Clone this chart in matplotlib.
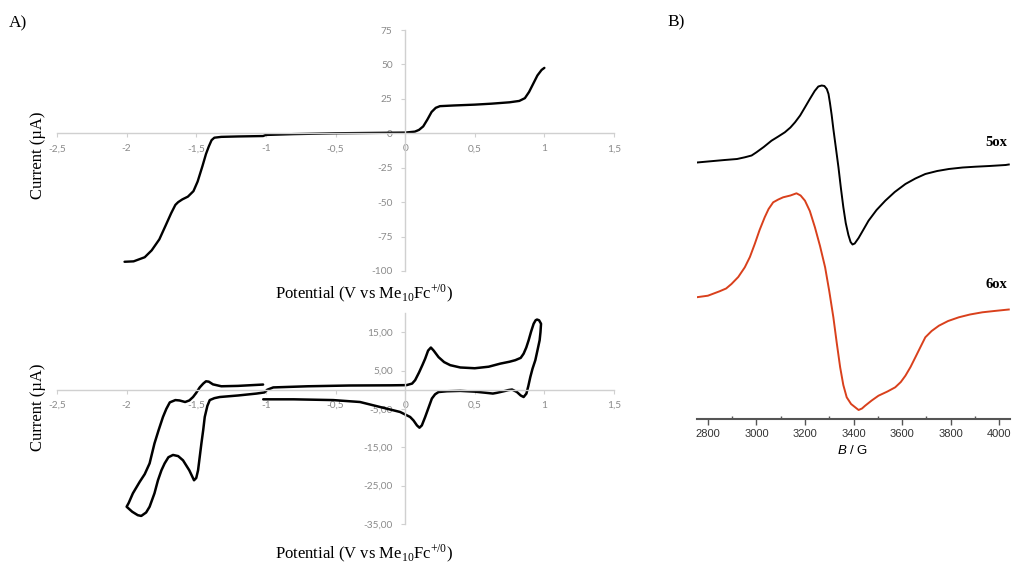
import matplotlib
matplotlib.use("Agg")
import matplotlib.pyplot as plt
from matplotlib.ticker import FixedLocator, MultipleLocator

# ---------------- data ----------------
# Panel A (top): linear sweep voltammogram
lsv_potential = [-2.015, -1.95, -1.87, -1.82, -1.765, -1.72, -1.68, -1.65, -1.63, -1.60,
                 -1.56, -1.52, -1.49, -1.456, -1.43, -1.41, -1.39, -1.37, -1.32, -1.20,
                 -1.02, -1.00, -0.80, -0.50, -0.20, 0.00, 0.07, 0.10, 0.13, 0.16,
                 0.19, 0.22, 0.25, 0.35, 0.50, 0.62, 0.75, 0.82, 0.86, 0.89,
                 0.92, 0.95, 0.98, 1.00]
lsv_current = [-93.3, -93.0, -90.0, -85.0, -77.0, -67.0, -58.0, -52.0, -50.0, -48.0,
               -46.0, -42.0, -35.0, -24.0, -15.0, -9.6, -5.0, -3.2, -2.6, -2.3,
               -2.0, -1.2, -0.6, 0.0, 0.3, 0.5, 1.2, 2.5, 5.0, 10.0,
               15.5, 18.5, 19.7, 20.2, 20.8, 21.5, 22.5, 23.5, 25.5, 30.0,
               36.0, 42.0, 46.0, 47.5]

# Panel A (bottom): cyclic voltammogram
cv_potential = [-1.02, -1.20, -1.32, -1.38, -1.41, -1.43, -1.45, -1.475, -1.50, -1.523,
                -1.55, -1.58, -1.62, -1.65, -1.69, -1.715, -1.739, -1.77, -1.80, -1.835,
                -1.87, -1.906, -1.955, -1.985, -2.00, -1.96, -1.92, -1.895, -1.86, -1.835,
                -1.80, -1.775, -1.75, -1.727, -1.70, -1.667, -1.63, -1.595, -1.55, -1.516,
                -1.50, -1.487, -1.475, -1.463, -1.45, -1.439, -1.42, -1.403, -1.37, -1.331,
                -1.20, -1.067, -1.01, -0.99, -0.947, -0.70, -0.40, -0.10, 0.01, 0.05,
                0.072, 0.10, 0.125, 0.144, 0.165, 0.185, 0.205, 0.24, 0.28, 0.324,
                0.396, 0.50, 0.60, 0.683, 0.75, 0.791, 0.83, 0.851, 0.87, 0.887,
                0.905, 0.923, 0.937, 0.947, 0.962, 0.976, 0.972, 0.966, 0.95, 0.935,
                0.915, 0.899, 0.885, 0.871, 0.851, 0.83, 0.803, 0.768, 0.74, 0.72,
                0.66, 0.63, 0.58, 0.50, 0.396, 0.30, 0.24, 0.215, 0.192, 0.17,
                0.144, 0.12, 0.103, 0.085, 0.06, 0.036, -0.036, -0.18, -0.324, -0.516,
                -0.80, -1.019]
cv_current = [1.35, 1.0, 0.9, 1.4, 2.1, 2.2, 1.6, 0.6, -0.8, -1.9,
              -2.8, -3.2, -2.8, -2.7, -3.3, -5.0, -7.1, -10.5, -14.0, -19.2,
              -22.0, -24.0, -27.0, -29.5, -30.5, -31.8, -32.7, -32.9, -32.0, -30.5,
              -27.0, -23.6, -21.0, -19.2, -17.6, -17.0, -17.3, -18.4, -21.0, -23.6,
              -23.0, -21.0, -17.5, -14.0, -10.5, -7.1, -4.2, -2.7, -2.2, -1.9,
              -1.5, -1.0, -0.7, 0.0, 0.6, 0.9, 1.1, 1.15, 1.2, 1.6,
              2.5, 4.5, 6.5, 8.1, 10.2, 11.0, 10.2, 8.5, 7.2, 6.4,
              5.8, 5.6, 6.0, 6.8, 7.3, 7.7, 8.3, 9.4, 11.0, 12.9,
              15.2, 17.2, 18.1, 18.3, 18.1, 17.2, 15.0, 12.9, 10.2, 7.7,
              5.5, 3.3, 1.0, -1.0, -1.9, -1.5, -0.6, 0.05, -0.1, -0.3,
              -0.8, -1.0, -0.8, -0.5, -0.3, -0.4, -0.6, -1.2, -2.3, -4.5,
              -7.1, -9.3, -9.9, -9.3, -8.0, -7.1, -5.8, -4.5, -3.2, -2.7,
              -2.5, -2.5]

# Panel B: EPR spectra (arbitrary intensity units)
epr_field_5ox = [2755, 2800, 2869, 2920, 2952, 2980, 3000, 3030, 3062, 3090,
                 3117, 3140, 3159, 3180, 3200, 3220, 3240, 3255, 3269, 3280,
                 3290, 3297, 3303, 3310, 3317, 3328, 3338, 3348, 3358, 3368,
                 3379, 3388, 3396, 3405, 3421, 3440, 3462, 3495, 3531, 3570,
                 3614, 3655, 3696, 3745, 3793, 3850, 3903, 3960, 4027, 4040]
epr_signal_5ox = [256.5, 257.5, 259.0, 260.0, 261.7, 263.5, 266.7, 272.0, 278.3, 282.5,
                  286.7, 291.5, 296.7, 303.5, 311.7, 320.0, 328.0, 332.5, 333.5, 333.0,
                  330.0, 325.0, 316.0, 304.0, 290.0, 270.0, 251.7, 231.0, 212.0, 196.0,
                  184.0, 177.0, 174.5, 175.5, 181.0, 189.0, 198.3, 209.0, 218.3, 227.0,
                  235.0, 240.5, 245.0, 248.0, 250.0, 251.5, 252.3, 253.0, 254.0, 254.5]
epr_field_6ox = [2755, 2800, 2848, 2875, 2897, 2925, 2952, 2973, 2993, 3013,
                 3034, 3050, 3069, 3090, 3110, 3140, 3165, 3182, 3200, 3220,
                 3241, 3262, 3283, 3300, 3317, 3331, 3345, 3358, 3372, 3390,
                 3407, 3421, 3435, 3448, 3475, 3503, 3540, 3572, 3595, 3614,
                 3635, 3655, 3676, 3696, 3722, 3752, 3790, 3834, 3880, 3931,
                 3980, 4040]
epr_signal_6ox = [121.8, 123.3, 127.7, 130.5, 135.0, 142.0, 151.7, 162.0, 175.0, 189.0,
                  201.7, 210.0, 216.7, 219.5, 221.7, 223.5, 225.7, 223.5, 218.3, 208.0,
                  191.7, 173.0, 151.7, 128.0, 101.7, 76.0, 51.7, 34.0, 21.7, 15.0,
                  11.7, 9.0, 10.5, 13.3, 18.5, 23.3, 27.5, 31.7, 37.0, 43.3,
                  52.0, 61.7, 72.0, 81.7, 88.0, 93.3, 98.0, 101.7, 104.5, 106.7,
                  108.0, 109.5]

x_ticks = [-2.5, -2, -1.5, -1, -0.5, 0, 0.5, 1, 1.5]
x_tick_labels = ['-2,5', '-2', '-1,5', '-1', '-0,5', '0', '0,5', '1', '1,5']
lsv_y_ticks = [75, 50, 25, 0, -25, -50, -75, -100]
lsv_y_tick_labels = ['75', '50', '25', '0', '-25', '-50', '-75', '-100']
cv_y_ticks = [15, 5, -5, -15, -25, -35]
cv_y_tick_labels = ['15,00', '5,00', '-5,00', '-15,00', '-25,00', '-35,00']
epr_ticks = [2800, 3000, 3200, 3400, 3600, 3800, 4000]
epr_tick_labels = ['2800', '3000', '3200', '3400', '3600', '3800', '4000']

# ---------------- figure ----------------
W, H = 1013, 563
fig = plt.figure(figsize=(W / 100, H / 100), dpi=100)
fig.patch.set_facecolor('white')

SERIF = ['Liberation Serif', 'DejaVu Serif']
plt.rcParams['mathtext.fontset'] = 'custom'
plt.rcParams['mathtext.rm'] = 'Liberation Serif'
plt.rcParams['mathtext.it'] = 'Liberation Sans:italic'


def px_axes(x0, x1, y0, y1):
    """axes from pixel box (x0,x1 left/right; y0 top, y1 bottom)"""
    return fig.add_axes([x0 / W, 1 - y1 / H, (x1 - x0) / W, (y1 - y0) / H])


AX_GREY = '#d0d0d0'
TXT_GREY = '#8a8a8a'


def excel_style(ax, yticks, ylabels):
    for s in ['top', 'right']:
        ax.spines[s].set_visible(False)
    ax.spines['left'].set_position(('data', 0))
    ax.spines['bottom'].set_position(('data', 0))
    for s in ['left', 'bottom']:
        ax.spines[s].set_color(AX_GREY)
        ax.spines[s].set_linewidth(1.0)
    ax.set_xlim(-2.5, 1.5)
    ax.xaxis.set_major_locator(FixedLocator(x_ticks))
    ax.set_xticklabels(x_tick_labels)
    ax.yaxis.set_major_locator(FixedLocator(yticks))
    ax.set_yticklabels(ylabels)
    ax.tick_params(axis='both', direction='out', length=3, width=0.8,
                   color=AX_GREY, labelcolor=TXT_GREY, labelsize=7.3)
    ax.tick_params(axis='x', pad=5)
    ax.tick_params(axis='y', pad=6)
    for lab in ax.get_xticklabels() + ax.get_yticklabels():
        lab.set_family(['Lato', 'DejaVu Sans'])
    ax.set_facecolor('none')


# top LSV
ax1 = px_axes(57, 614, 30, 271)
ax1.set_ylim(-100, 75)
excel_style(ax1, lsv_y_ticks, lsv_y_tick_labels)
ax1.plot(lsv_potential, lsv_current, color='black', lw=1.7, solid_joinstyle='round',
         solid_capstyle='round')

# bottom CV
ax2 = px_axes(57, 614, 313, 524)
ax2.set_ylim(-35, 20)
excel_style(ax2, cv_y_ticks, cv_y_tick_labels)
ax2.plot(cv_potential, cv_current, color='black', lw=1.8, solid_joinstyle='round',
         solid_capstyle='round')

# EPR
ax3 = px_axes(697, 1010, 50, 419)
ax3.plot(epr_field_5ox, epr_signal_5ox, color='black', lw=1.4, solid_joinstyle='round')
ax3.plot(epr_field_6ox, epr_signal_6ox, color='#d9401c', lw=1.4, solid_joinstyle='round')
ax3.set_xlim(2755, 4045)
ax3.set_ylim(0, 369)
for s in ['top', 'right', 'left']:
    ax3.spines[s].set_visible(False)
ax3.spines['bottom'].set_color('#555555')
ax3.spines['bottom'].set_linewidth(1.5)
ax3.set_yticks([])
ax3.xaxis.set_major_locator(FixedLocator(epr_ticks))
ax3.set_xticklabels(epr_tick_labels)
ax3.xaxis.set_minor_locator(MultipleLocator(100))
ax3.tick_params(axis='x', which='major', direction='out', length=4, width=1,
                color='#555555', labelcolor='#333333', labelsize=8, pad=3)
ax3.tick_params(axis='x', which='minor', direction='in', length=2.5, width=1,
                color='#555555')
for lab in ax3.get_xticklabels():
    lab.set_family(['Liberation Sans', 'DejaVu Sans'])
ax3.set_facecolor('none')
ax3.text(4035, 277, '5ox', ha='right', va='center', family=SERIF,
         fontweight='bold', fontsize=10.5)
ax3.text(4035, 134, '6ox', ha='right', va='center', family=SERIF,
         fontweight='bold', fontsize=10.5)

# axis labels & panel letters
xlab = r'Potential (V vs Me$_{\mathregular{10}}$Fc$^{\mathregular{+/0}}$)'
fig.text(364 / W, 1 - 293 / H, xlab, ha='center', va='center', family=SERIF, fontsize=12)
fig.text(364 / W, 1 - 553 / H, xlab, ha='center', va='center', family=SERIF, fontsize=12)
fig.text(38 / W, 1 - 155 / H, 'Current (µA)', rotation=90, ha='center', va='center',
         family=SERIF, fontsize=12)
fig.text(38 / W, 1 - 407 / H, 'Current (µA)', rotation=90, ha='center', va='center',
         family=SERIF, fontsize=12)
fig.text(853 / W, 1 - 450 / H, r'$\mathit{B}$ / G', ha='center', va='center',
         family=['Liberation Sans', 'DejaVu Sans'], fontsize=9.5)
fig.text(9 / W, 1 - 23 / H, 'A)', ha='left', va='center', family=SERIF, fontsize=12.5)
fig.text(667 / W, 1 - 22 / H, 'B)', ha='left', va='center', family=SERIF, fontsize=12.5)

fig.savefig('out.png', dpi=100, facecolor='white')
